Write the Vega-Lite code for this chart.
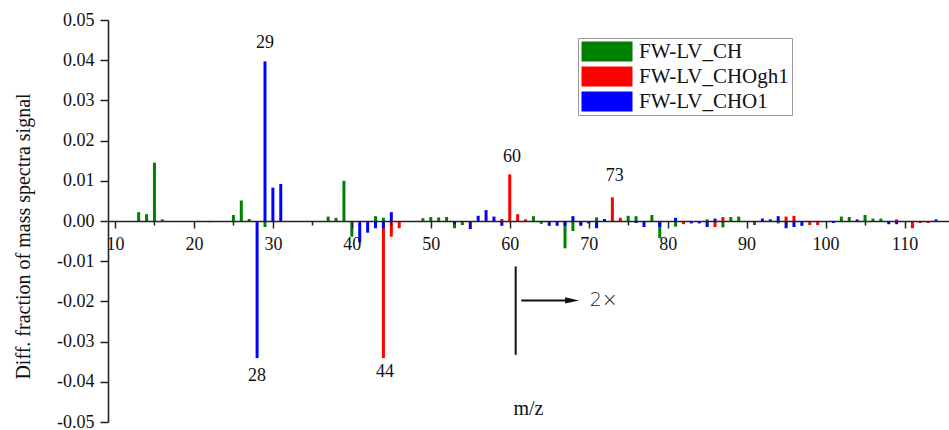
{
  "$schema": "https://vega.github.io/schema/vega-lite/v6.json",
  "width": 841,
  "height": 402,
  "autosize": {"type": "none"},
  "padding": {"left": 108, "top": 20, "right": 0, "bottom": 8},
  "background": "white",
  "config": {
    "view": {"stroke": null},
    "font": "Liberation Serif"
  },
  "datasets": {
    "bars": [
      {"mz": 13, "v": 0.0022, "s": "FW-LV_CH"},
      {"mz": 14, "v": 0.0017, "s": "FW-LV_CH"},
      {"mz": 15, "v": 0.0145, "s": "FW-LV_CH"},
      {"mz": 16, "v": 0.0004, "s": "FW-LV_CH"},
      {"mz": 25, "v": 0.0015, "s": "FW-LV_CH"},
      {"mz": 26, "v": 0.0051, "s": "FW-LV_CH"},
      {"mz": 27, "v": 0.0005, "s": "FW-LV_CH"},
      {"mz": 29, "v": -0.0015, "s": "FW-LV_CH"},
      {"mz": 37, "v": 0.0011, "s": "FW-LV_CH"},
      {"mz": 38, "v": 0.0008, "s": "FW-LV_CH"},
      {"mz": 39, "v": 0.0100, "s": "FW-LV_CH"},
      {"mz": 40, "v": -0.0039, "s": "FW-LV_CH"},
      {"mz": 43, "v": 0.0012, "s": "FW-LV_CH"},
      {"mz": 44, "v": 0.0008, "s": "FW-LV_CH"},
      {"mz": 49, "v": 0.0007, "s": "FW-LV_CH"},
      {"mz": 50, "v": 0.0010, "s": "FW-LV_CH"},
      {"mz": 51, "v": 0.0009, "s": "FW-LV_CH"},
      {"mz": 52, "v": 0.0010, "s": "FW-LV_CH"},
      {"mz": 53, "v": -0.0018, "s": "FW-LV_CH"},
      {"mz": 54, "v": -0.0010, "s": "FW-LV_CH"},
      {"mz": 63, "v": 0.0012, "s": "FW-LV_CH"},
      {"mz": 64, "v": -0.0007, "s": "FW-LV_CH"},
      {"mz": 67, "v": -0.0068, "s": "FW-LV_CH"},
      {"mz": 68, "v": -0.0025, "s": "FW-LV_CH"},
      {"mz": 71, "v": 0.0009, "s": "FW-LV_CH"},
      {"mz": 75, "v": 0.0013, "s": "FW-LV_CH"},
      {"mz": 76, "v": 0.0012, "s": "FW-LV_CH"},
      {"mz": 78, "v": 0.0015, "s": "FW-LV_CH"},
      {"mz": 79, "v": -0.0043, "s": "FW-LV_CH"},
      {"mz": 81, "v": -0.0014, "s": "FW-LV_CH"},
      {"mz": 85, "v": 0.0004, "s": "FW-LV_CH"},
      {"mz": 87, "v": -0.0016, "s": "FW-LV_CH"},
      {"mz": 88, "v": 0.0010, "s": "FW-LV_CH"},
      {"mz": 89, "v": 0.0011, "s": "FW-LV_CH"},
      {"mz": 91, "v": -0.0010, "s": "FW-LV_CH"},
      {"mz": 94, "v": -0.0006, "s": "FW-LV_CH"},
      {"mz": 102, "v": 0.0011, "s": "FW-LV_CH"},
      {"mz": 103, "v": 0.0010, "s": "FW-LV_CH"},
      {"mz": 105, "v": 0.0015, "s": "FW-LV_CH"},
      {"mz": 106, "v": 0.0006, "s": "FW-LV_CH"},
      {"mz": 107, "v": 0.0006, "s": "FW-LV_CH"},
      {"mz": 22, "v": -0.0003, "s": "FW-LV_CHOgh1"},
      {"mz": 44, "v": -0.0341, "s": "FW-LV_CHOgh1"},
      {"mz": 45, "v": -0.0039, "s": "FW-LV_CHOgh1"},
      {"mz": 46, "v": -0.0018, "s": "FW-LV_CHOgh1"},
      {"mz": 59, "v": 0.0005, "s": "FW-LV_CHOgh1"},
      {"mz": 60, "v": 0.0116, "s": "FW-LV_CHOgh1"},
      {"mz": 61, "v": 0.0017, "s": "FW-LV_CHOgh1"},
      {"mz": 62, "v": 0.0004, "s": "FW-LV_CHOgh1"},
      {"mz": 69, "v": -0.0008, "s": "FW-LV_CHOgh1"},
      {"mz": 72, "v": 0.0004, "s": "FW-LV_CHOgh1"},
      {"mz": 73, "v": 0.0059, "s": "FW-LV_CHOgh1"},
      {"mz": 74, "v": 0.0008, "s": "FW-LV_CHOgh1"},
      {"mz": 82, "v": -0.0008, "s": "FW-LV_CHOgh1"},
      {"mz": 86, "v": -0.0015, "s": "FW-LV_CHOgh1"},
      {"mz": 87, "v": 0.0010, "s": "FW-LV_CHOgh1"},
      {"mz": 95, "v": 0.0011, "s": "FW-LV_CHOgh1"},
      {"mz": 96, "v": 0.0013, "s": "FW-LV_CHOgh1"},
      {"mz": 98, "v": -0.0010, "s": "FW-LV_CHOgh1"},
      {"mz": 99, "v": -0.0010, "s": "FW-LV_CHOgh1"},
      {"mz": 109, "v": 0.0004, "s": "FW-LV_CHOgh1"},
      {"mz": 111, "v": -0.0018, "s": "FW-LV_CHOgh1"},
      {"mz": 112, "v": -0.0005, "s": "FW-LV_CHOgh1"},
      {"mz": 113, "v": -0.0005, "s": "FW-LV_CHOgh1"},
      {"mz": 28, "v": -0.0341, "s": "FW-LV_CHO1"},
      {"mz": 29, "v": 0.0397, "s": "FW-LV_CHO1"},
      {"mz": 30, "v": 0.0083, "s": "FW-LV_CHO1"},
      {"mz": 31, "v": 0.0092, "s": "FW-LV_CHO1"},
      {"mz": 41, "v": -0.0053, "s": "FW-LV_CHO1"},
      {"mz": 42, "v": -0.0029, "s": "FW-LV_CHO1"},
      {"mz": 43, "v": -0.0018, "s": "FW-LV_CHO1"},
      {"mz": 44, "v": -0.0018, "s": "FW-LV_CHO1"},
      {"mz": 45, "v": 0.0022, "s": "FW-LV_CHO1"},
      {"mz": 53, "v": -0.0008, "s": "FW-LV_CHO1"},
      {"mz": 55, "v": -0.0020, "s": "FW-LV_CHO1"},
      {"mz": 56, "v": 0.0013, "s": "FW-LV_CHO1"},
      {"mz": 57, "v": 0.0027, "s": "FW-LV_CHO1"},
      {"mz": 58, "v": 0.0011, "s": "FW-LV_CHO1"},
      {"mz": 59, "v": -0.0012, "s": "FW-LV_CHO1"},
      {"mz": 65, "v": -0.0012, "s": "FW-LV_CHO1"},
      {"mz": 66, "v": -0.0012, "s": "FW-LV_CHO1"},
      {"mz": 67, "v": -0.0012, "s": "FW-LV_CHO1"},
      {"mz": 68, "v": 0.0012, "s": "FW-LV_CHO1"},
      {"mz": 69, "v": -0.0012, "s": "FW-LV_CHO1"},
      {"mz": 70, "v": -0.0006, "s": "FW-LV_CHO1"},
      {"mz": 71, "v": -0.0018, "s": "FW-LV_CHO1"},
      {"mz": 72, "v": 0.0005, "s": "FW-LV_CHO1"},
      {"mz": 76, "v": -0.0005, "s": "FW-LV_CHO1"},
      {"mz": 77, "v": -0.0015, "s": "FW-LV_CHO1"},
      {"mz": 79, "v": -0.0015, "s": "FW-LV_CHO1"},
      {"mz": 81, "v": 0.0008, "s": "FW-LV_CHO1"},
      {"mz": 83, "v": -0.0006, "s": "FW-LV_CHO1"},
      {"mz": 84, "v": -0.0006, "s": "FW-LV_CHO1"},
      {"mz": 85, "v": -0.0015, "s": "FW-LV_CHO1"},
      {"mz": 86, "v": 0.0006, "s": "FW-LV_CHO1"},
      {"mz": 92, "v": 0.0006, "s": "FW-LV_CHO1"},
      {"mz": 93, "v": 0.0004, "s": "FW-LV_CHO1"},
      {"mz": 94, "v": 0.0012, "s": "FW-LV_CHO1"},
      {"mz": 95, "v": -0.0018, "s": "FW-LV_CHO1"},
      {"mz": 96, "v": -0.0015, "s": "FW-LV_CHO1"},
      {"mz": 97, "v": -0.0012, "s": "FW-LV_CHO1"},
      {"mz": 101, "v": -0.0005, "s": "FW-LV_CHO1"},
      {"mz": 104, "v": 0.0004, "s": "FW-LV_CHO1"},
      {"mz": 108, "v": -0.0008, "s": "FW-LV_CHO1"},
      {"mz": 109, "v": -0.0008, "s": "FW-LV_CHO1"},
      {"mz": 114, "v": 0.0004, "s": "FW-LV_CHO1"}
    ],
    "peaks": [
      {"mz": 29.0, "v": 0.0443, "t": "29"},
      {"mz": 28.0, "v": -0.0385, "t": "28"},
      {"mz": 44.2, "v": -0.0375, "t": "44"},
      {"mz": 60.3, "v": 0.0160, "t": "60"},
      {"mz": 73.3, "v": 0.0113, "t": "73"}
    ],
    "vline": [{"x": 60.75, "y": -0.0113, "y2": -0.0333}],
    "hline": [{"x": 61.46, "x2": 67.4, "y": -0.01975}],
    "head": [{"x": 67.9, "y": -0.01975}],
    "note": [{"x": 71.9, "y": -0.0197, "t": "2×"}]
  },
  "layer": [
    {
      "data": {"name": "bars"},
      "mark": {"type": "bar", "size": 3, "clip": true},
      "encoding": {
        "x": {
          "field": "mz", "type": "quantitative",
          "scale": {"domain": [9.75, 115], "nice": false, "zero": false},
          "axis": {
            "values": [10, 15, 20, 25, 30, 35, 40, 45, 50, 55, 60, 65, 70, 75, 80, 85, 90, 95, 100, 105, 110],
            "labelExpr": "datum.value % 10 == 0 ? datum.label : ''",
            "offset": -201,
            "zindex": 1,
            "grid": false,
            "domainColor": "#222222",
            "domainWidth": 1.6,
            "tickColor": "#222222",
            "tickWidth": 1.5,
            "tickSize": {"condition": {"test": "datum.value % 10 == 0", "value": 7}, "value": 4},
            "labelFont": "Liberation Serif",
            "labelFontSize": 18,
            "labelColor": "#111111",
            "labelPadding": 7,
            "labelFlush": false,
            "labelOverlap": false,
            "title": "m/z",
            "titleFont": "Liberation Serif",
            "titleFontSize": 20,
            "titleFontWeight": "normal",
            "titleColor": "#111111",
            "titleX": 420,
            "titleY": 187,
            "titleAlign": "center",
            "titleBaseline": "middle"
          }
        },
        "y": {
          "field": "v", "type": "quantitative", "stack": null,
          "scale": {"domain": [-0.05, 0.05], "nice": false},
          "axis": {
            "values": [-0.05, -0.045, -0.04, -0.035, -0.03, -0.025, -0.02, -0.015, -0.01, -0.005, 0, 0.005, 0.01, 0.015, 0.02, 0.025, 0.03, 0.035, 0.04, 0.045, 0.05],
            "labelExpr": "abs(round(datum.value * 1000)) % 10 == 0 ? (datum.value < -0.0001 ? '-' : '') + format(abs(datum.value), '.2f') : ''",
            "grid": false,
            "domainColor": "#222222",
            "domainWidth": 1.6,
            "tickColor": "#222222",
            "tickWidth": 1.5,
            "tickSize": {"condition": {"test": "abs(round(datum.value * 1000)) % 10 == 0", "value": 8}, "value": 4},
            "labelFont": "Liberation Serif",
            "labelFontSize": 18,
            "labelColor": "#111111",
            "labelPadding": 6,
            "labelFlush": false,
            "labelOverlap": false,
            "title": "Diff. fraction of mass spectra signal",
            "titleFont": "Liberation Serif",
            "titleFontSize": 20,
            "titleFontWeight": "normal",
            "titleColor": "#111111",
            "titleX": -85,
            "titleY": 216,
            "titleAngle": -90,
            "titleAlign": "center",
            "titleBaseline": "middle"
          }
        },
        "color": {
          "field": "s", "type": "nominal",
          "scale": {
            "domain": ["FW-LV_CH", "FW-LV_CHOgh1", "FW-LV_CHO1"],
            "range": ["#008000", "#ff0000", "#0000ff"]
          },
          "legend": {
            "title": null,
            "orient": "none",
            "legendX": 470,
            "legendY": 18,
            "strokeColor": "#999999",
            "padding": 3,
            "symbolType": "M-1,-1H4.1V1H-1Z",
            "symbolSize": 400,
            "symbolStrokeWidth": 0,
            "symbolOpacity": 1,
            "labelFont": "Liberation Serif",
            "labelFontSize": 21,
            "labelColor": "#111111",
            "labelOffset": 37,
            "rowPadding": 3,
            "labelLimit": 300
          }
        }
      }
    },
    {
      "data": {"name": "peaks"},
      "mark": {"type": "text", "font": "Liberation Serif", "fontSize": 18, "color": "#111111", "baseline": "middle", "align": "center"},
      "encoding": {
        "x": {"field": "mz", "type": "quantitative", "scale": {"domain": [9.75, 115], "nice": false, "zero": false}},
        "y": {"field": "v", "type": "quantitative", "scale": {"domain": [-0.05, 0.05], "nice": false}},
        "text": {"field": "t"}
      }
    },
    {
      "data": {"name": "vline"},
      "mark": {"type": "rule", "color": "#111111", "strokeWidth": 2},
      "encoding": {
        "x": {"field": "x", "type": "quantitative", "scale": {"domain": [9.75, 115], "nice": false, "zero": false}},
        "y": {"field": "y", "type": "quantitative", "scale": {"domain": [-0.05, 0.05], "nice": false}},
        "y2": {"field": "y2"}
      }
    },
    {
      "data": {"name": "hline"},
      "mark": {"type": "rule", "color": "#111111", "strokeWidth": 2},
      "encoding": {
        "x": {"field": "x", "type": "quantitative", "scale": {"domain": [9.75, 115], "nice": false, "zero": false}},
        "x2": {"field": "x2"},
        "y": {"field": "y", "type": "quantitative", "scale": {"domain": [-0.05, 0.05], "nice": false}}
      }
    },
    {
      "data": {"name": "head"},
      "mark": {"type": "point", "shape": "M-1,-0.45L1,0L-1,0.45Z", "size": 196, "filled": true, "color": "#111111", "opacity": 1},
      "encoding": {
        "x": {"field": "x", "type": "quantitative", "scale": {"domain": [9.75, 115], "nice": false, "zero": false}},
        "y": {"field": "y", "type": "quantitative", "scale": {"domain": [-0.05, 0.05], "nice": false}}
      }
    },
    {
      "data": {"name": "note"},
      "mark": {"type": "text", "font": "DejaVu Sans", "fontSize": 19, "fontWeight": 300, "color": "#222222", "baseline": "middle", "align": "center"},
      "encoding": {
        "x": {"field": "x", "type": "quantitative", "scale": {"domain": [9.75, 115], "nice": false, "zero": false}},
        "y": {"field": "y", "type": "quantitative", "scale": {"domain": [-0.05, 0.05], "nice": false}},
        "text": {"field": "t"}
      }
    }
  ]
}
